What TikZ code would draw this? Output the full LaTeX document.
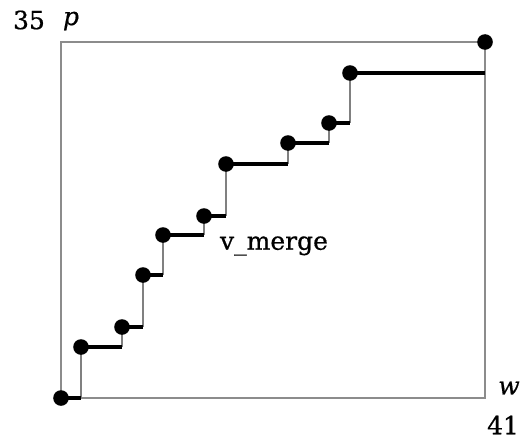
\documentclass[tikz,border=0pt]{standalone}
\usepackage{fontspec}
\setmainfont{DejaVu Serif}[FakeBold=0.6]
\begin{document}
\begin{tikzpicture}[x=1pt,y=-1pt,
  frame/.style={draw=black!45,line width=1.6pt},
  riser/.style={draw=black!50,line width=1.6pt},
  tread/.style={draw=black,line width=3.4pt},
  dot/.style={fill=black},
  lbl/.style={inner sep=0pt,font=\fontsize{25}{29}\selectfont}]
\useasboundingbox (0,0) rectangle (521,439);
% staircase points
\coordinate (p0) at (61,398);
\coordinate (p1) at (81,347);
\coordinate (p2) at (122,327);
\coordinate (p3) at (143,275);
\coordinate (p4) at (163,235);
\coordinate (p5) at (204,216);
\coordinate (p6) at (226,164);
\coordinate (p7) at (288,143);
\coordinate (p8) at (329,123);
\coordinate (p9) at (350,73);
\coordinate (p10) at (485,42);
\coordinate (bl) at (61,398);
\coordinate (tr) at (485,42);
% frame
\draw[frame] (bl) rectangle (tr);
% steps: thick tread then thin riser
\foreach \a/\b in {p0/p1,p1/p2,p2/p3,p3/p4,p4/p5,p5/p6,p6/p7,p7/p8,p8/p9}{
  \draw[riser] (\a -| \b) -- (\b);
  \draw[tread] (\a) -- (\a -| \b);
}
\draw[tread] (p9) -- (p9 -| p10);
% dots
\foreach \p in {p0,p1,p2,p3,p4,p5,p6,p7,p8,p9,p10}
  \fill[dot] (\p) circle (7.8);
% labels
\node[lbl] (ymax) at (29,20) {35};
\node[lbl] (yname) at (71,21) {\itshape p};
\node[lbl] (xname) at (509,388) {\itshape w};
\node[lbl] (xmax) at (503,425) {41};
\node[lbl] (name) at (274,246) {v\_merge};
\end{tikzpicture}
\end{document}
